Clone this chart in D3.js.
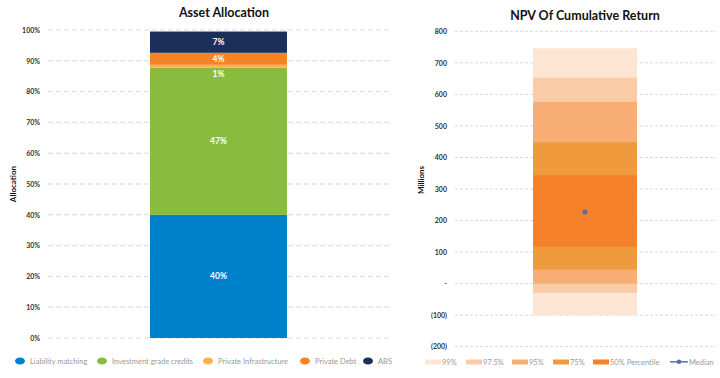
<!DOCTYPE html>
<html>
<head>
<meta charset="utf-8">
<script src="https://cdn.jsdelivr.net/npm/d3@7"></script>
<style>
  body { margin: 0; background: #fff; }
  svg { font-family: Lato, "Open Sans", sans-serif; }
</style>
</head>
<body>
<div id="chart"></div>
<script>
// asset allocation (left)
var assetNames = ["Liability matching", "Investment grade credits", "Private Infrastructure", "Private Debt", "ABS"];
var assetValues = [40.0, 47.8, 0.9, 3.9, 6.9];
var assetLabels = ["40%", "47%", "1%", "4%", "7%"];
var assetColors = ["#0081CB", "#88BB3E", "#FFB04A", "#F58426", "#1B2F5A"];
var pctTicks = [0, 10, 20, 30, 40, 50, 60, 70, 80, 90, 100];

// npv bands (right), low / high per percentile band
var bandNames = ["99%", "97.5%", "95%", "75%", "50% Percentile"];
var bandLow = [-100, -29, 0, 45, 117];
var bandHigh = [746, 653, 576, 448, 344];
var bandColors = ["#FDE5D3", "#F9CBA7", "#F7AD73", "#F09A3E", "#F5822A"];
var medianValue = 227;
var npvTicks = [-200, -100, 0, 100, 200, 300, 400, 500, 600, 700, 800];

var svg = d3.select("#chart").append("svg")
  .attr("width", 720)
  .attr("height", 378);

/* ---------- left chart ---------- */
var xL = d3.scaleBand().domain(["a"]).range([48, 389]).paddingInner(0).paddingOuter(0);
var yL = d3.scaleLinear().domain([0, 100]).range([338, 30]);
var barL = { x: 150, w: 137 };

var gridL = svg.append("g");
gridL.selectAll("line")
  .data(pctTicks)
  .enter()
  .append("line")
  .attr("x1", 48)
  .attr("x2", 389)
  .attr("y1", function(d){return yL(d)})
  .attr("y2", function(d){return yL(d)})
  .attr("stroke", "#d9d9d9")
  .attr("stroke-width", 1)
  .attr("stroke-dasharray", "5,3");

var axisL = svg.append("g")
  .attr("transform", "translate(40,0)")
  .call(d3.axisLeft(yL).tickValues(pctTicks).tickSize(0).tickFormat(function(d){return d + "%"}));
axisL.select(".domain").remove();
axisL.selectAll("text")
  .attr("x", 0)
  .attr("font-size", 7)
  .attr("font-weight", "bold")
  .attr("fill", "#333")
  .attr("font-family", "Lato, sans-serif");

var stackL = [];
var acc = 0;
for (var i = 0; i < assetValues.length; i++) {
  stackL.push({ name: assetNames[i], y0: acc, y1: acc + assetValues[i], label: assetLabels[i], color: assetColors[i] });
  acc += assetValues[i];
}

svg.append("g").selectAll("rect")
  .data(stackL)
  .enter()
  .append("rect")
  .attr("x", barL.x)
  .attr("width", barL.w)
  .attr("y", function(d){return yL(d.y1)})
  .attr("height", function(d){return yL(d.y0) - yL(d.y1)})
  .attr("fill", function(d){return d.color});

svg.append("g").selectAll("text")
  .data(stackL)
  .enter()
  .append("text")
  .text(function(d){return d.label})
  .attr("text-anchor", "middle")
  .attr("x", barL.x + barL.w / 2)
  .attr("y", function(d, i){
    var mid = (yL(d.y0) + yL(d.y1)) / 2;
    if (i == 2) mid += 8; // small slice, label pushed down into the green
    return mid + 3;
  })
  .attr("font-size", 8.5)
  .attr("font-weight", "bold")
  .attr("fill", "#fff");

svg.append("text")
  .text("Asset Allocation")
  .attr("text-anchor", "middle")
  .attr("x", 224)
  .attr("y", 17)
  .attr("font-size", 12.5)
  .attr("font-weight", "bold")
  .attr("fill", "#111");

svg.append("text")
  .text("Allocation")
  .attr("text-anchor", "middle")
  .attr("transform", "translate(16,184) rotate(-90)")
  .attr("font-size", 8)
  .attr("font-weight", "bold")
  .attr("fill", "#111");

// legend left
var legL = svg.append("g");
var legLx = [15, 97, 203, 300, 363];
legL.selectAll("ellipse")
  .data(assetNames)
  .enter()
  .append("ellipse")
  .attr("cx", function(d, i){return legLx[i] + 5})
  .attr("cy", 361)
  .attr("rx", 5)
  .attr("ry", 3.5)
  .attr("fill", function(d, i){return assetColors[i]});
legL.selectAll("text")
  .data(assetNames)
  .enter()
  .append("text")
  .text(function(d){return d})
  .attr("x", function(d, i){return legLx[i] + 15})
  .attr("y", 363.5)
  .attr("font-size", 7.5)
  .attr("fill", "#999");

/* ---------- right chart ---------- */
var yR = d3.scaleLinear().domain([-200, 800]).range([346.7, 31.3]);
var barR = { x: 533, w: 104 };

svg.append("g").selectAll("line")
  .data(npvTicks)
  .enter()
  .append("line")
  .attr("x1", 455)
  .attr("x2", 716)
  .attr("y1", function(d){return yR(d)})
  .attr("y2", function(d){return yR(d)})
  .attr("stroke", "#d9d9d9")
  .attr("stroke-width", 1)
  .attr("stroke-dasharray", "3,2");

var axisR = svg.append("g")
  .attr("transform", "translate(447,0)")
  .call(d3.axisLeft(yR).tickValues(npvTicks).tickSize(0).tickFormat(function(d){
    if (d == 0) return "-";
    if (d < 0) return "(" + (-d) + ")";
    return d;
  }));
axisR.select(".domain").remove();
axisR.selectAll("text")
  .attr("x", 0)
  .attr("font-size", 7)
  .attr("font-weight", "bold")
  .attr("fill", "#333")
  .attr("font-family", "Lato, sans-serif");

svg.append("g").selectAll("rect")
  .data(bandNames)
  .enter()
  .append("rect")
  .attr("x", barR.x)
  .attr("width", barR.w)
  .attr("y", function(d, i){return yR(bandHigh[i])})
  .attr("height", function(d, i){return yR(bandLow[i]) - yR(bandHigh[i])})
  .attr("fill", function(d, i){return bandColors[i]});

svg.append("circle")
  .attr("cx", barR.x + barR.w / 2)
  .attr("cy", yR(medianValue))
  .attr("r", 2.6)
  .attr("fill", "#5A6FA8");

svg.append("text")
  .text("NPV Of Cumulative Return")
  .attr("text-anchor", "middle")
  .attr("x", 585)
  .attr("y", 20)
  .attr("font-size", 12.5)
  .attr("font-weight", "bold")
  .attr("fill", "#111");

svg.append("text")
  .text("Millions")
  .attr("text-anchor", "middle")
  .attr("transform", "translate(424,180) rotate(-90)")
  .attr("font-size", 8)
  .attr("font-weight", "bold")
  .attr("fill", "#111");

// legend right
var legR = svg.append("g");
var legRx = [425, 466, 512, 553, 593];
legR.selectAll("rect")
  .data(bandNames)
  .enter()
  .append("rect")
  .attr("x", function(d, i){return legRx[i]})
  .attr("y", 359.5)
  .attr("width", 16)
  .attr("height", 5)
  .attr("fill", function(d, i){return bandColors[i]});
legR.selectAll("text")
  .data(bandNames)
  .enter()
  .append("text")
  .text(function(d){return d})
  .attr("x", function(d, i){return legRx[i] + 17})
  .attr("y", 364.5)
  .attr("font-size", 7.5)
  .attr("fill", "#999");

legR.append("line")
  .attr("x1", 670).attr("x2", 688)
  .attr("y1", 361.8).attr("y2", 361.8)
  .attr("stroke", "#5A6FA8")
  .attr("stroke-width", 1.5);
legR.append("circle")
  .attr("cx", 679).attr("cy", 361.8).attr("r", 2.3)
  .attr("fill", "#5A6FA8");
legR.append("text")
  .text("Median")
  .attr("x", 689)
  .attr("y", 364.5)
  .attr("font-size", 7.5)
  .attr("fill", "#999");
</script>
</body>
</html>
